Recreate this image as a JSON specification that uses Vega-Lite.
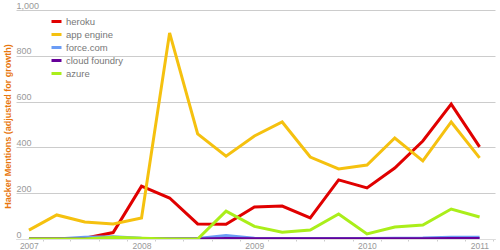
{
  "$schema": "https://vega.github.io/schema/vega-lite/v6.json",
  "autosize": {"type": "none"},
  "width": 479,
  "height": 229,
  "padding": {"left": 16, "top": 10, "right": 5, "bottom": 11},
  "background": "white",
  "config": {"view": {"stroke": null}, "font": "Liberation Sans"},
  "data": {"values": [
    {"date":"2007-01-01","series":"heroku","v":0},{"date":"2007-04-01","series":"heroku","v":0},{"date":"2007-07-01","series":"heroku","v":3},{"date":"2007-10-01","series":"heroku","v":28},
    {"date":"2008-01-01","series":"heroku","v":231},{"date":"2008-04-01","series":"heroku","v":179},{"date":"2008-07-01","series":"heroku","v":66},{"date":"2008-10-01","series":"heroku","v":64},
    {"date":"2009-01-01","series":"heroku","v":140},{"date":"2009-04-01","series":"heroku","v":144},{"date":"2009-07-01","series":"heroku","v":92},{"date":"2009-10-01","series":"heroku","v":258},
    {"date":"2010-01-01","series":"heroku","v":223},{"date":"2010-04-01","series":"heroku","v":310},{"date":"2010-07-01","series":"heroku","v":428},{"date":"2010-10-01","series":"heroku","v":589},
    {"date":"2011-01-01","series":"heroku","v":402},
    {"date":"2007-01-01","series":"app engine","v":39},{"date":"2007-04-01","series":"app engine","v":105},{"date":"2007-07-01","series":"app engine","v":74},{"date":"2007-10-01","series":"app engine","v":66},
    {"date":"2008-01-01","series":"app engine","v":92},{"date":"2008-04-01","series":"app engine","v":900},{"date":"2008-07-01","series":"app engine","v":459},{"date":"2008-10-01","series":"app engine","v":362},
    {"date":"2009-01-01","series":"app engine","v":450},{"date":"2009-04-01","series":"app engine","v":511},{"date":"2009-07-01","series":"app engine","v":358},{"date":"2009-10-01","series":"app engine","v":306},
    {"date":"2010-01-01","series":"app engine","v":323},{"date":"2010-04-01","series":"app engine","v":441},{"date":"2010-07-01","series":"app engine","v":341},{"date":"2010-10-01","series":"app engine","v":511},
    {"date":"2011-01-01","series":"app engine","v":354},
    {"date":"2007-01-01","series":"force.com","v":0},{"date":"2007-04-01","series":"force.com","v":0},{"date":"2007-07-01","series":"force.com","v":8},{"date":"2007-10-01","series":"force.com","v":10},
    {"date":"2008-01-01","series":"force.com","v":3},{"date":"2008-04-01","series":"force.com","v":0},{"date":"2008-07-01","series":"force.com","v":2},{"date":"2008-10-01","series":"force.com","v":15},
    {"date":"2009-01-01","series":"force.com","v":3},{"date":"2009-04-01","series":"force.com","v":2},{"date":"2009-07-01","series":"force.com","v":2},{"date":"2009-10-01","series":"force.com","v":2},
    {"date":"2010-01-01","series":"force.com","v":2},{"date":"2010-04-01","series":"force.com","v":3},{"date":"2010-07-01","series":"force.com","v":4},{"date":"2010-10-01","series":"force.com","v":8},
    {"date":"2011-01-01","series":"force.com","v":8},
    {"date":"2007-01-01","series":"cloud foundry","v":0},{"date":"2007-04-01","series":"cloud foundry","v":0},{"date":"2007-07-01","series":"cloud foundry","v":0},{"date":"2007-10-01","series":"cloud foundry","v":0},
    {"date":"2008-01-01","series":"cloud foundry","v":0},{"date":"2008-04-01","series":"cloud foundry","v":0},{"date":"2008-07-01","series":"cloud foundry","v":0},{"date":"2008-10-01","series":"cloud foundry","v":2},
    {"date":"2009-01-01","series":"cloud foundry","v":1},{"date":"2009-04-01","series":"cloud foundry","v":1},{"date":"2009-07-01","series":"cloud foundry","v":1},{"date":"2009-10-01","series":"cloud foundry","v":1},
    {"date":"2010-01-01","series":"cloud foundry","v":1},{"date":"2010-04-01","series":"cloud foundry","v":1},{"date":"2010-07-01","series":"cloud foundry","v":1},{"date":"2010-10-01","series":"cloud foundry","v":2},
    {"date":"2011-01-01","series":"cloud foundry","v":2},
    {"date":"2007-01-01","series":"azure","v":0},{"date":"2007-04-01","series":"azure","v":0},{"date":"2007-07-01","series":"azure","v":0},{"date":"2007-10-01","series":"azure","v":8},
    {"date":"2008-01-01","series":"azure","v":3},{"date":"2008-04-01","series":"azure","v":0},{"date":"2008-07-01","series":"azure","v":0},{"date":"2008-10-01","series":"azure","v":122},
    {"date":"2009-01-01","series":"azure","v":55},{"date":"2009-04-01","series":"azure","v":30},{"date":"2009-07-01","series":"azure","v":39},{"date":"2009-10-01","series":"azure","v":109},
    {"date":"2010-01-01","series":"azure","v":22},{"date":"2010-04-01","series":"azure","v":52},{"date":"2010-07-01","series":"azure","v":61},{"date":"2010-10-01","series":"azure","v":131},
    {"date":"2011-01-01","series":"azure","v":96}
  ]},
  "mark": {"type": "line", "strokeWidth": 3, "strokeJoin": "miter", "clip": true},
  "encoding": {
    "x": {
      "field": "date", "type": "temporal",
      "scale": {"type": "utc", "domain": [{"year": 2006, "month": 11, "date": 20, "utc": true}, {"year": 2011, "month": 2, "date": 20, "utc": true}]},
      "axis": {
        "title": null, "grid": false,
        "values": [
          {"year":2007,"month":2,"date":15,"utc":true},{"year":2007,"month":5,"date":15,"utc":true},{"year":2007,"month":8,"date":15,"utc":true},{"year":2007,"month":11,"date":15,"utc":true},
          {"year":2008,"month":2,"date":15,"utc":true},{"year":2008,"month":5,"date":15,"utc":true},{"year":2008,"month":8,"date":15,"utc":true},{"year":2008,"month":11,"date":15,"utc":true},
          {"year":2009,"month":2,"date":15,"utc":true},{"year":2009,"month":5,"date":15,"utc":true},{"year":2009,"month":8,"date":15,"utc":true},{"year":2009,"month":11,"date":15,"utc":true},
          {"year":2010,"month":2,"date":15,"utc":true},{"year":2010,"month":5,"date":15,"utc":true},{"year":2010,"month":8,"date":15,"utc":true},{"year":2010,"month":11,"date":15,"utc":true},
          {"year":2011,"month":2,"date":15,"utc":true}
        ],
        "labelExpr": "utcmonth(datum.value) == 1 ? '' + utcyear(datum.value) : ''",
        "labelOffset": -14,
        "labelFontSize": 8.5, "labelColor": "#999999",
        "labelPadding": 0, "labelBaseline": "top",
        "tickSize": 2, "tickColor": "#cccccc",
        "domainColor": "#dddddd",
        "labelOverlap": false, "labelFlush": false
      }
    },
    "y": {
      "field": "v", "type": "quantitative",
      "scale": {"domain": [0, 1000], "nice": false, "zero": true},
      "axis": {
        "title": "Hacker Mentions (adjusted for growth)",
        "titleColor": "#e8770f", "titleFontSize": 9, "titleFontWeight": "bold",
        "titleX": -9, "titleY": 116, "titleAngle": -90, "titleAlign": "center", "titleBaseline": "middle",
        "values": [0, 200, 400, 600, 800, 1000],
        "format": ",d",
        "grid": true, "gridColor": "#cccccc", "gridWidth": 1,
        "ticks": false, "tickSize": 0, "domain": false,
        "labelAlign": "left", "labelBaseline": "alphabetic", "labelPadding": 0, "labelOffset": -2,
        "labelFontSize": 9, "labelColor": "#999999"
      }
    },
    "color": {
      "field": "series", "type": "nominal",
      "scale": {"domain": ["heroku", "app engine", "force.com", "cloud foundry", "azure"], "range": ["#e00000", "#f5c10f", "#6b9cf5", "#660099", "#aaee1a"]},
      "legend": {
        "title": null, "orient": "none", "legendX": 34, "legendY": 5,
        "symbolType": "stroke", "symbolStrokeWidth": 3, "symbolSize": 100,
        "labelFontSize": 9.5, "labelColor": "#777777", "labelOffset": 3,
        "rowPadding": -4.5
      }
    }
  }
}
